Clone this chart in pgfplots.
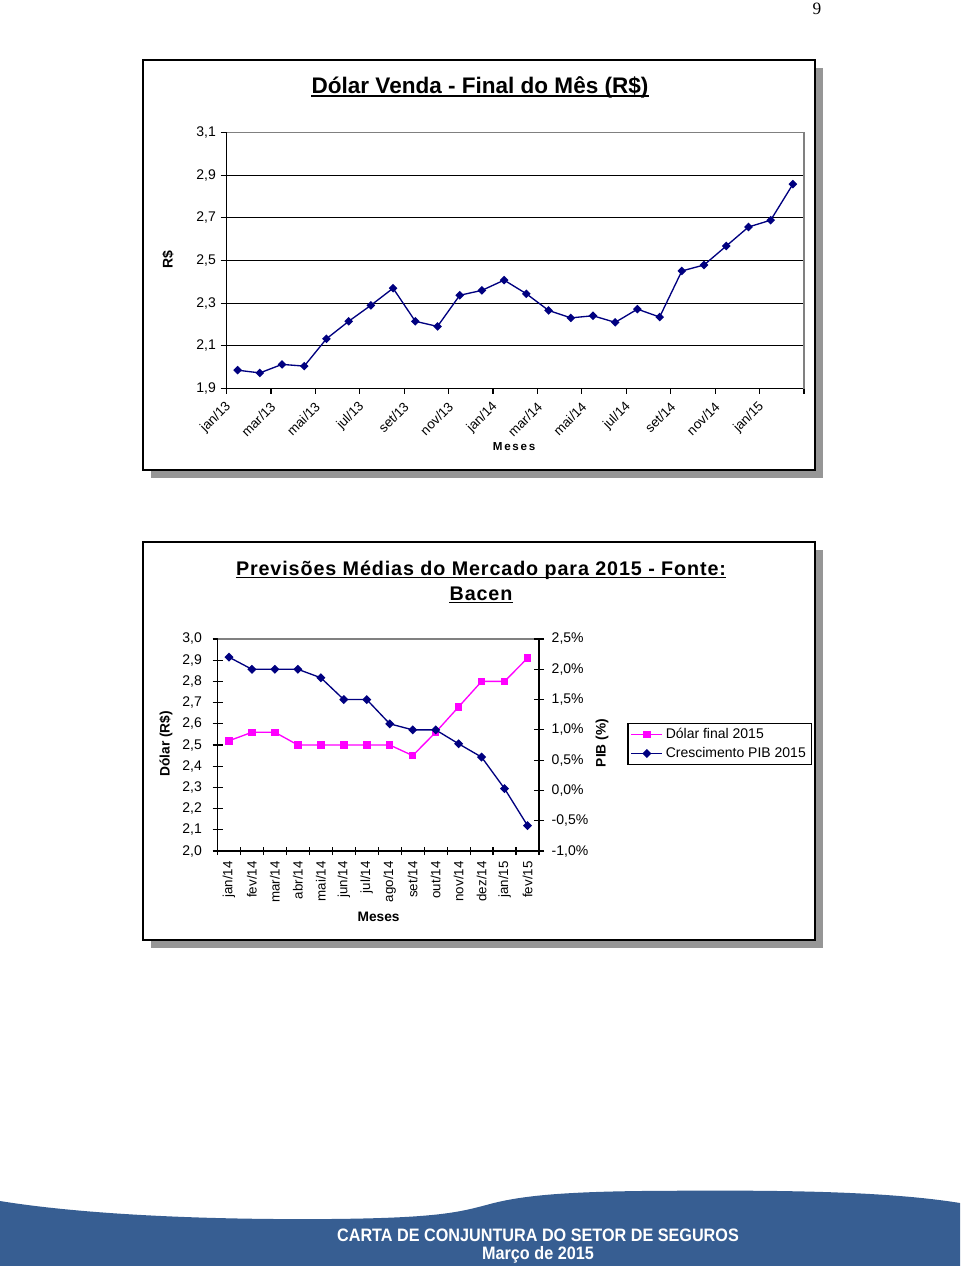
\documentclass[border=0pt]{standalone}
\usepackage{fontspec}
\setmainfont{Liberation Sans}
\newfontfamily\seriffont{Liberation Serif}
\newfontfamily\spacedfont{Liberation Sans}[LetterSpace=4.5]
\newfontfamily\mesesfont{Liberation Sans}[LetterSpace=15]
\newfontfamily\narrowfont{Liberation Sans}[FakeStretch=0.9]
\usepackage{pgfplots}
\pgfplotsset{compat=1.18}
\definecolor{navyc}{RGB}{0,0,128}
\definecolor{magc}{RGB}{255,0,255}
\definecolor{footblue}{RGB}{55,94,146}
\definecolor{shadowgray}{RGB}{150,150,150}
\definecolor{bordergray}{RGB}{128,128,128}

\pgfplotstableread{
x y
1 1.986
2 1.973
3 2.013
4 2.005
5 2.133
6 2.215
7 2.290
8 2.370
9 2.215
10 2.191
11 2.337
12 2.360
13 2.408
14 2.344
15 2.266
16 2.231
17 2.241
18 2.210
19 2.272
20 2.235
21 2.451
22 2.479
23 2.568
24 2.657
25 2.689
26 2.858
}\dolarvenda

\pgfplotstableread{
x dolar pib
1 2.52 2.20
2 2.56 2.00
3 2.56 2.00
4 2.50 2.00
5 2.50 1.86
6 2.50 1.50
7 2.50 1.50
8 2.50 1.10
9 2.45 1.00
10 2.56 1.00
11 2.68 0.77
12 2.80 0.55
13 2.80 0.03
14 2.91 -0.58
}\previsoes

\begin{document}
\begin{tikzpicture}
\begin{scope}[x=0.75pt,y=-0.75pt]
  \fill[white] (0,0) rectangle (960,1266);
  % frames with shadow
  \fill[shadowgray] (151,68) rectangle (823,478);
  \draw[black, line width=1pt, fill=white] (143,60) rectangle (815,470);
  \fill[shadowgray] (151,550) rectangle (823,948);
  \draw[black, line width=1pt, fill=white] (143,542) rectangle (815,940);
  % footer
  \fill[footblue] (0,1201) .. controls (80,1214) and (200,1220) .. (330,1219)
     .. controls (440,1218) and (460,1212) .. (490,1204)
     .. controls (520,1196) and (560,1192) .. (640,1191)
     .. controls (760,1190) and (880,1190) .. (960,1203)
     -- (960,1266) -- (0,1266) -- cycle;
  \node[white, anchor=base, inner sep=0pt, font=\narrowfont\bfseries\fontsize{13.5}{16}\selectfont] at (538,1241) {CARTA DE CONJUNTURA DO SETOR DE SEGUROS};
  \node[white, anchor=base, inner sep=0pt, font=\narrowfont\bfseries\fontsize{13.5}{16}\selectfont] at (538,1259) {Março de 2015};
  % page number
  \node[anchor=base, inner sep=0pt, font=\seriffont\fontsize{13}{15}\selectfont] at (817,15) {9};
  % titles
  \node[anchor=base, inner sep=0pt, font=\bfseries\fontsize{16.9}{20}\selectfont] (t1) at (480,94) {Dólar Venda - Final do Mês (R\$)};
  \draw[line width=1.2pt] ([yshift=-1.5pt]t1.base west) -- ([yshift=-1.5pt]t1.base east);
  \node[anchor=base, inner sep=0pt, font=\spacedfont\bfseries\fontsize{14.8}{17}\selectfont] (t2) at (481,575) {Previsões Médias do Mercado para 2015 - Fonte:};
  \draw[line width=1.2pt] ([yshift=-1.8pt]t2.base west) -- ([yshift=-1.8pt]t2.base east);
  \node[anchor=base, inner sep=0pt, font=\spacedfont\bfseries\fontsize{14.8}{17}\selectfont] (t3) at (481,600) {Bacen};
  \draw[line width=1.2pt] ([yshift=-1.8pt]t3.base west) -- ([yshift=-1.8pt]t3.base east);
\end{scope}

% ---------- Chart 1 ----------
\begin{axis}[
  at={(169.875pt,-291.375pt)}, anchor=south west,
  scale only axis, width=433.125pt, height=192pt,
  xmin=0.5, xmax=26.5, ymin=1.9, ymax=3.1,
  clip=false,
  axis x line*=bottom, axis y line*=left,
  axis line style={black, line width=0.9pt},
  xtick={1,3,...,25},
  xticklabels={jan/13,mar/13,mai/13,jul/13,set/13,nov/13,jan/14,mar/14,mai/14,jul/14,set/14,nov/14,jan/15},
  major x tick style={draw=none},
  minor xtick={0.5,2.5,...,26.5},
  minor tick length=3.75pt,
  major tick length=4.5pt,
  tick align=outside,
  tick style={black, line width=0.9pt},
  ytick={1.9,2.1,2.3,2.5,2.7,2.9,3.1},
  ymajorgrids, major grid style={black, line width=0.9pt},
  /pgf/number format/.cd, use comma, fixed, fixed zerofill, precision=1, assume math mode=true,
  /pgfplots/.cd,
  yticklabel style={font=\fontsize{10.5}{12}\selectfont},
  xticklabel style={font=\fontsize{10}{12}\selectfont, xshift=-4.2pt, yshift=-5pt, rotate=45, anchor=east},
  ylabel={R\$},
  ylabel style={at={(axis description cs:-0.1013,0.502)}, anchor=center, font=\bfseries\fontsize{10.5}{12}\selectfont},
  xlabel={\mesesfont\bfseries Meses},
  xlabel style={at={(axis description cs:0.498,-0.2285)}, anchor=center, font=\fontsize{8.7}{10}\selectfont},
]
\addplot[navyc, line width=1pt, mark=square*, mark size=1.8pt, mark options={solid, rotate=45, fill=navyc}] table[x=x, y=y] {\dolarvenda};
\draw[bordergray, line width=0.9pt] (rel axis cs:0,1) -- (rel axis cs:1,1) -- (rel axis cs:1,0);
\end{axis}

% ---------- Chart 2, left axis ----------
\begin{axis}[
  at={(163.125pt,-638.25pt)}, anchor=south west,
  scale only axis, width=241.125pt, height=159pt,
  xmin=0.5, xmax=14.5, ymin=2.0, ymax=3.0,
  clip=false,
  axis x line*=bottom, axis y line*=left,
  axis line style={black, line width=0.9pt},
  xtick={1,...,14},
  xticklabels={jan/14,fev/14,mar/14,abr/14,mai/14,jun/14,jul/14,ago/14,set/14,out/14,nov/14,dez/14,jan/15,fev/15},
  major x tick style={draw=none},
  minor xtick={0.5,1.5,...,14.5},
  minor tick length=6pt,
  major tick length=7.5pt,
  tick align=center,
  tick style={black, line width=0.9pt},
  ytick={2.0,2.1,2.2,2.3,2.4,2.5,2.6,2.7,2.8,2.9,3.0},
  /pgf/number format/.cd, use comma, fixed, fixed zerofill, precision=1, assume math mode=true,
  /pgfplots/.cd,
  yticklabel style={font=\fontsize{10.5}{12}\selectfont, xshift=-4.5pt},
  xticklabel style={font=\fontsize{10}{12}\selectfont, yshift=-0.5pt, rotate=90, anchor=east},
  ylabel={Dólar (R\$)},
  ylabel style={at={(axis description cs:-0.160,0.505)}, anchor=center, font=\bfseries\fontsize{10.3}{12}\selectfont},
  xlabel={Meses},
  xlabel style={at={(axis description cs:0.501,-0.31)}, anchor=center, font=\bfseries\fontsize{10.3}{12}\selectfont},
]
\addplot[magc, line width=1pt, mark=square*, mark size=2.3pt, mark options={solid, fill=magc}] table[x=x, y=dolar] {\previsoes};
\draw[bordergray, line width=0.9pt] (rel axis cs:0,1) -- (rel axis cs:1,1);
\end{axis}

% ---------- Chart 2, right axis ----------
\begin{axis}[
  at={(163.125pt,-638.25pt)}, anchor=south west,
  scale only axis, width=241.125pt, height=159pt,
  xmin=0.5, xmax=14.5, ymin=-1.0, ymax=2.5,
  clip=false,
  axis x line=none, axis y line*=right,
  axis line style={black, line width=0.9pt},
  major tick length=7.5pt,
  tick align=center,
  tick style={black, line width=0.9pt},
  ytick={-1.0,-0.5,0,0.5,1.0,1.5,2.0,2.5},
  /pgf/number format/.cd, use comma, fixed, fixed zerofill, precision=1, assume math mode=true,
  /pgfplots/.cd,
  yticklabel={\pgfmathprintnumber{\tick}\%},
  yticklabel style={font=\fontsize{10.5}{12}\selectfont, xshift=2.25pt},
  ylabel={PIB (\%)},
  ylabel style={at={(axis description cs:1.196,0.509)}, anchor=center, rotate=0, font=\bfseries\fontsize{10.3}{12}\selectfont},
  legend style={at={(1.2749,0.5047)}, anchor=west, draw=black, line width=0.9pt,
    font=\fontsize{10.5}{12}\selectfont, cells={anchor=west}, inner xsep=2pt, inner ysep=1.5pt, row sep=1pt},
  legend image code/.code={\draw[mark repeat=2,mark phase=2,#1] plot coordinates {(0cm,0cm) (0.41cm,0cm) (0.82cm,0cm)};},
]
\addlegendimage{magc, line width=1pt, mark=square*, mark size=2.3pt, mark options={solid, fill=magc}}
\addlegendentry{Dólar final 2015}
\addplot[navyc, line width=1pt, mark=square*, mark size=1.9pt, mark options={solid, rotate=45, fill=navyc}] table[x=x, y=pib] {\previsoes};
\addlegendentry{Crescimento PIB 2015}
\end{axis}
\end{tikzpicture}
\end{document}
